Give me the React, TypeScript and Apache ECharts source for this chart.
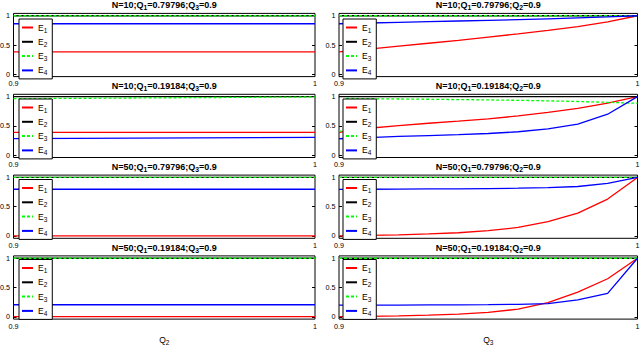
import React, { useEffect, useRef } from "react";
import * as echarts from "echarts";

// ---------- data ----------
// abscissa: Q2 (left column) / Q3 (right column)
const Q = [0.9, 0.91, 0.92, 0.93, 0.94, 0.95, 0.96, 0.97, 0.98, 0.99, 1.0];
const Q_ENDS = [0.9, 1.0];
const Q_JUMP = [0.9, 0.9025, 0.9025, 0.91, 0.92, 0.93, 0.94, 0.95, 0.96, 0.97, 0.98, 0.99, 1.0];

const SERIES_NAMES = ["E1", "E2", "E3", "E4"];
const Y_TICKS = [0, 0.5, 1];
const X_TICK_LABELS = ["0.9", "1"];

// titles
const PANEL_N = ["10", "10", "10", "10", "50", "50", "50", "50"];
const PANEL_Q1 = ["0.79796", "0.79796", "0.19184", "0.19184", "0.79796", "0.79796", "0.19184", "0.19184"];
const PANEL_FIXED_Q = ["3", "2", "3", "2", "3", "2", "3", "2"];
const PANEL_FIXED_VAL = ["0.9", "0.9", "0.9", "0.9", "0.9", "0.9", "0.9", "0.9"];
const X_AXIS_SUB = ["2", "3"];

// panel 1: N=10, Q1=0.79796, Q3=0.9 (vs Q2)
const p1_E1 = [0.383, 0.383];
const p1_E2 = [1, 1];
const p1_E3 = [1, 1];
const p1_E4 = [0.863, 0.863];
// panel 2: N=10, Q1=0.79796, Q2=0.9 (vs Q3)
const p2_E1 = [0.383, 0.43, 0.48, 0.53, 0.58, 0.635, 0.69, 0.75, 0.815, 0.895, 1];
const p2_E2 = [1, 1];
const p2_E3 = [1, 1];
const p2_E4 = [0.863, 0.876, 0.888, 0.899, 0.91, 0.921, 0.933, 0.947, 0.962, 0.979, 1];
// panel 3: N=10, Q1=0.19184, Q3=0.9 (vs Q2)
const p3_E1 = [0.39, 0.39];
const p3_E2 = [1, 1];
const p3_E3 = [0.965, 0.995];
const p3_E4 = [0.282, 0.305];
// panel 4: N=10, Q1=0.19184, Q2=0.9 (vs Q3)
const p4_E1 = [0.39, 0.46, 0.505, 0.545, 0.58, 0.62, 0.67, 0.73, 0.8, 0.89, 1];
const p4_E2 = [1, 1];
const p4_E3 = [0.41, 0.41, 0.97, 0.965, 0.96, 0.955, 0.95, 0.944, 0.937, 0.928, 0.917, 0.903, 0.887];
const p4_E4 = [0.28, 0.3, 0.32, 0.335, 0.35, 0.37, 0.4, 0.45, 0.53, 0.7, 1];
// panel 5: N=50, Q1=0.79796, Q3=0.9 (vs Q2)
const p5_E1 = [0.003, 0.003];
const p5_E2 = [1, 1];
const p5_E3 = [1, 1];
const p5_E4 = [0.798, 0.798];
// panel 6: N=50, Q1=0.79796, Q2=0.9 (vs Q3)
const p6_E1 = [0.003, 0.01, 0.02, 0.035, 0.055, 0.09, 0.145, 0.245, 0.39, 0.63, 1];
const p6_E2 = [1, 1];
const p6_E3 = [1, 1];
const p6_E4 = [0.797, 0.798, 0.8, 0.803, 0.806, 0.81, 0.816, 0.826, 0.845, 0.9, 1];
// panel 7: N=50, Q1=0.19184, Q3=0.9 (vs Q2)
const p7_E1 = [0.003, 0.003];
const p7_E2 = [1, 1];
const p7_E3 = [1, 1];
const p7_E4 = [0.205, 0.205];
// panel 8: N=50, Q1=0.19184, Q2=0.9 (vs Q3)
const p8_E1 = [0.003, 0.008, 0.016, 0.028, 0.045, 0.075, 0.13, 0.24, 0.42, 0.65, 1];
const p8_E2 = [1, 1];
const p8_E3 = [1, 1];
const p8_E4 = [0.2, 0.2, 0.2, 0.202, 0.204, 0.207, 0.212, 0.225, 0.29, 0.4, 1];

const PANELS: [number[], number[]][][] = [
  [[Q_ENDS, p1_E1], [Q_ENDS, p1_E2], [Q_ENDS, p1_E3], [Q_ENDS, p1_E4]],
  [[Q, p2_E1], [Q_ENDS, p2_E2], [Q_ENDS, p2_E3], [Q, p2_E4]],
  [[Q_ENDS, p3_E1], [Q_ENDS, p3_E2], [Q_ENDS, p3_E3], [Q_ENDS, p3_E4]],
  [[Q, p4_E1], [Q_ENDS, p4_E2], [Q_JUMP, p4_E3], [Q, p4_E4]],
  [[Q_ENDS, p5_E1], [Q_ENDS, p5_E2], [Q_ENDS, p5_E3], [Q_ENDS, p5_E4]],
  [[Q, p6_E1], [Q_ENDS, p6_E2], [Q_ENDS, p6_E3], [Q, p6_E4]],
  [[Q_ENDS, p7_E1], [Q_ENDS, p7_E2], [Q_ENDS, p7_E3], [Q_ENDS, p7_E4]],
  [[Q, p8_E1], [Q_ENDS, p8_E2], [Q_ENDS, p8_E3], [Q, p8_E4]],
];

// ---------- styles / layout ----------
const FONT = '"Liberation Sans", Arial, Helvetica, sans-serif';
const COLORS = ["#ff0000", "#000000", "#00ff00", "#0000ff"];
const COL_LEFT = [13.5, 339];
const COL_WIDTH = [301.5, 298.5];
const ROW_TOP = [13.4, 94.3, 175.1, 255.9];
const GRID_H = 63.2;
const LEGEND_LEFT = [19, 343];
const LEGEND_TOP = [19, 99, 179.5, 259.5];

function buildOption() {
  const grid: any[] = [];
  const xAxis: any[] = [];
  const yAxis: any[] = [];
  const series: any[] = [];
  const title: any[] = [];
  const legend: any[] = [];

  const titleRich = {
    a: { fontSize: 9, fontWeight: "bold", fontFamily: FONT, color: "#000", lineHeight: 11 },
    b: { fontSize: 6.8, fontWeight: "bold", fontFamily: FONT, color: "#000", lineHeight: 11, padding: [5, 0, 0, 0] },
  };
  const legendRich = {
    e: { fontSize: 8.5, fontFamily: FONT, color: "#000", lineHeight: 10 },
    s: { fontSize: 6.5, fontFamily: FONT, color: "#000", lineHeight: 10, padding: [5, 0, 0, 0] },
  };
  const nameRich = {
    q: { fontSize: 8.5, fontFamily: FONT, color: "#000", lineHeight: 11 },
    s: { fontSize: 6.5, fontFamily: FONT, color: "#000", lineHeight: 11, padding: [5, 0, 0, 0] },
  };

  PANELS.forEach((panel, p) => {
    const row = Math.floor(p / 2);
    const col = p % 2;
    const left = COL_LEFT[col];
    const width = COL_WIDTH[col];
    const top = ROW_TOP[row];

    grid.push({
      left,
      top,
      width,
      height: GRID_H,
      show: true,
      borderColor: "#000",
      borderWidth: 1,
      backgroundColor: "#fff",
      containLabel: false,
      outerBoundsMode: "none",
    });

    const isBottom = row === 3;
    xAxis.push({
      type: "value",
      gridIndex: p,
      min: 0.9,
      max: 1,
      interval: 0.1,
      axisLine: { show: false },
      axisTick: { show: false },
      splitLine: { show: false },
      axisLabel: {
        show: true,
        margin: 3.5,
        fontSize: 7.2,
        fontFamily: FONT,
        color: "#000",
        showMinLabel: true,
        showMaxLabel: true,
        formatter: (v: number) => (v < 0.95 ? X_TICK_LABELS[0] : X_TICK_LABELS[1]),
      },
      name: isBottom ? `{q|Q}{s|${X_AXIS_SUB[col]}}` : "",
      nameLocation: "middle",
      nameGap: 15,
      nameTextStyle: { rich: nameRich },
    });

    const yBase = {
      type: "value",
      gridIndex: p,
      min: -0.04,
      max: 1.04,
      axisLine: { show: false },
      splitLine: { show: false },
    };
    yAxis.push({
      ...yBase,
      position: "left",
      axisTick: { show: true, inside: true, length: 3, customValues: Y_TICKS, lineStyle: { color: "#000", width: 1 } },
      axisLabel: {
        show: true,
        customValues: Y_TICKS,
        margin: 3.5,
        fontSize: 7.2,
        fontFamily: FONT,
        color: "#000",
        formatter: (v: number) => String(v),
      },
    });
    yAxis.push({
      ...yBase,
      position: "right",
      axisTick: { show: true, inside: true, length: 3, customValues: Y_TICKS, lineStyle: { color: "#000", width: 1 } },
      axisLabel: { show: false },
    });

    panel.forEach(([xs, ys], k) => {
      series.push({
        type: "line",
        name: SERIES_NAMES[k],
        xAxisIndex: p,
        yAxisIndex: 2 * p,
        data: xs.map((x, i) => [x, ys[i]]),
        symbol: "none",
        silent: true,
        z: 2 + k * 0.01,
        lineStyle: {
          color: COLORS[k],
          width: 1.3,
          type: k === 2 ? [3, 2] : "solid",
        },
        itemStyle: { color: COLORS[k] },
      });
    });

    title.push({
      left: left + width / 2,
      top: top - 8,
      textAlign: "center",
      textVerticalAlign: "middle",
      padding: 0,
      text: `{a|N=${PANEL_N[p]};Q}{b|1}{a|=${PANEL_Q1[p]};Q}{b|${PANEL_FIXED_Q[p]}}{a|=${PANEL_FIXED_VAL[p]}}`,
      textStyle: { rich: titleRich },
    });

    legend.push({
      orient: "vertical",
      left: LEGEND_LEFT[col],
      top: LEGEND_TOP[row],
      data: SERIES_NAMES,
      padding: [2.5, 5, 2.5, 2],
      itemWidth: 11,
      itemHeight: 10,
      itemGap: 2.3,
      backgroundColor: "#fff",
      borderColor: "#000",
      borderWidth: 1,
      borderRadius: 0,
      selectedMode: false,
      z: 10,
      itemStyle: { color: "transparent", borderColor: "transparent", borderWidth: 0, opacity: 0 },
      formatter: (name: string) => `{e|E}{s|${name.slice(1)}}`,
      textStyle: { rich: legendRich },
    });
  });

  return {
    animation: false,
    backgroundColor: "#fff",
    textStyle: { fontFamily: FONT },
    grid,
    xAxis,
    yAxis,
    series,
    title,
    legend,
  };
}

export default function App() {
  const ref = useRef<HTMLDivElement>(null);
  useEffect(() => {
    if (!ref.current) return;
    const chart = echarts.init(ref.current, undefined, { renderer: "svg" });
    chart.setOption(buildOption() as any);
    return () => chart.dispose();
  }, []);
  return (
    <div
      ref={ref}
      style={{ position: "fixed", left: 0, top: 0, width: 640, height: 345, background: "#fff" }}
    />
  );
}
